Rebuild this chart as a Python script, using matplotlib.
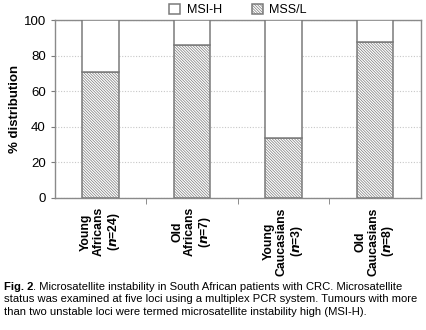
import matplotlib.pyplot as plt
import numpy as np

plt.rcParams['font.family'] = ['Liberation Sans', 'DejaVu Sans']
plt.rcParams['hatch.linewidth'] = 0.5
plt.rcParams['hatch.color'] = '#b4b4b4'

# data
groups = ['Young\nAfricans\n($\\mathbfit{n}$=24)', 'Old\nAfricans\n($\\mathbfit{n}$=7)',
          'Young\nCaucasians\n($\\mathbfit{n}$=3)', 'Old\nCaucasians\n($\\mathbfit{n}$=8)']
mss_l = [70.8, 85.7, 33.3, 87.5]
msi_h = [29.2, 14.3, 66.7, 12.5]
yticks = [0, 20, 40, 60, 80, 100]

caption = [
    '. Microsatellite instability in South African patients with CRC. Microsatellite',
    'status was examined at five loci using a multiplex PCR system. Tumours with more',
    'than two unstable loci were termed microsatellite instability high (MSI-H).',
]

fig = plt.figure(figsize=(4.26, 3.30), dpi=100)
ax = fig.add_axes([0.129, 0.4015, 0.859, 0.5375])

x = np.arange(len(groups))
edge = '#7a7a7a'
ax.bar(x, mss_l, width=0.4, color='white', edgecolor=edge, linewidth=1.1,
       hatch='\\' * 12, label='MSS/L', zorder=3)
ax.bar(x, msi_h, width=0.4, bottom=mss_l, color='white', edgecolor=edge,
       linewidth=1.1, label='MSI-H', zorder=3)

ax.set_xlim(-0.5, len(groups) - 0.5)
ax.set_ylim(0, 100)
ax.set_yticks(yticks)
ax.yaxis.grid(True, linestyle=(0, (1, 1.5)), color='#c8c8c8', linewidth=0.8)
ax.set_axisbelow(True)

ax.set_xticks(x)
ax.set_xticklabels(groups, rotation=90, fontsize=8.8, fontweight='bold',
                   ha='center', va='top', multialignment='center', linespacing=1.1)
ax.set_xticks(np.arange(0.5, len(groups) - 0.5, 1), minor=True)
ax.tick_params(axis='x', which='major', length=0, pad=7)
ax.tick_params(axis='x', which='minor', length=4, direction='out', color=edge)
ax.tick_params(axis='y', length=3, direction='out', color=edge, labelsize=9.5)

for s in ax.spines.values():
    s.set_color('#8a8a8a')
    s.set_linewidth(1.0)

ax.set_ylabel('% distribution', fontsize=9.5, fontweight='bold', labelpad=2)

h, l = ax.get_legend_handles_labels()
ax.legend(h[::-1], l[::-1], loc='lower center', bbox_to_anchor=(0.5, 0.995),
          ncol=2, frameon=False, fontsize=9, handlelength=0.9, handleheight=0.9,
          columnspacing=2.4, handletextpad=0.5, borderaxespad=0)

fs = 8.1
x0 = 4 / 426
t = fig.text(x0, 1 - 287 / 330, 'Fig. 2', fontsize=fs, fontweight='bold', va='center')
fig.canvas.draw()
bb = t.get_window_extent().transformed(fig.transFigure.inverted())
fig.text(bb.x1, 1 - 287 / 330, caption[0], fontsize=fs, va='center')
fig.text(x0, 1 - 299.5 / 330, caption[1], fontsize=fs, va='center')
fig.text(x0, 1 - 312 / 330, caption[2], fontsize=fs, va='center')

fig.savefig('out.png', dpi=100)
